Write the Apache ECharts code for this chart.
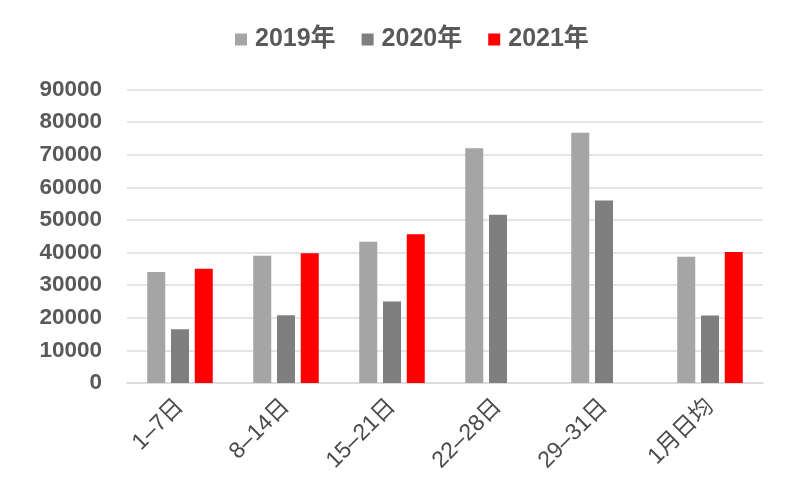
<!DOCTYPE html>
<html>
<head>
<meta charset="utf-8">
<script src="https://cdn.jsdelivr.net/npm/echarts@6/dist/echarts.min.js"></script>
<style>html,body{margin:0;padding:0;background:#fff;}#c{width:800px;height:500px;}</style>
</head>
<body>
<div id="c"></div>
<script>
const categories = ['1–7日', '8–14日', '15–21日', '22–28日', '29–31日', '1月日均'];
const seriesNames = ['2019年', '2020年', '2021年'];
const values2019 = [34000, 39000, 43300, 72000, 76700, 38700];
const values2020 = [16500, 20800, 25000, 51600, 56000, 20700];
const values2021 = [35000, 39800, 45600, null, null, 40200];
const yTicks = [0, 10000, 20000, 30000, 40000, 50000, 60000, 70000, 80000, 90000];
const colors = ['#a5a5a5', '#7f7f7f', '#ff0000'];
const font = "Arial, 'Liberation Sans', 'Noto Sans CJK SC', sans-serif";

const chart = echarts.init(document.getElementById('c'));
const data = [values2019, values2020, values2021];
chart.setOption({
  animation: false,
  backgroundColor: '#fff',
  legend: {
    top: 22,
    left: 230,
    itemWidth: 12,
    itemHeight: 12,
    itemGap: 26,
    icon: 'rect',
    textStyle: { fontSize: 25, fontWeight: 'bold', color: '#595959', fontFamily: font, padding: [0, 0, 0, 3] },
    data: seriesNames
  },
  grid: { left: 127, right: 37, top: 89.5, bottom: 117, containLabel: false },
  xAxis: {
    type: 'category',
    data: categories,
    axisLine: { lineStyle: { color: '#d9d9d9', width: 1.5 } },
    axisTick: { show: false },
    axisLabel: {
      rotate: 45, interval: 0, margin: 20,
      fontSize: 23, color: '#4a4a4a', fontFamily: font
    }
  },
  yAxis: {
    type: 'value',
    min: yTicks[0],
    max: yTicks[yTicks.length - 1],
    interval: 10000,
    axisLine: { show: false },
    axisTick: { show: false },
    splitLine: { lineStyle: { color: '#dcdcdc', width: 1.5 } },
    axisLabel: { fontSize: 22.5, fontWeight: 'bold', color: '#595959', fontFamily: font, margin: 25,
      formatter: v => String(v) }
  },
  series: seriesNames.map((n, i) => ({
    name: n,
    type: 'bar',
    data: data[i],
    barWidth: 18,
    barGap: '32%',
    itemStyle: { color: colors[i] }
  }))
});
</script>
</body>
</html>
